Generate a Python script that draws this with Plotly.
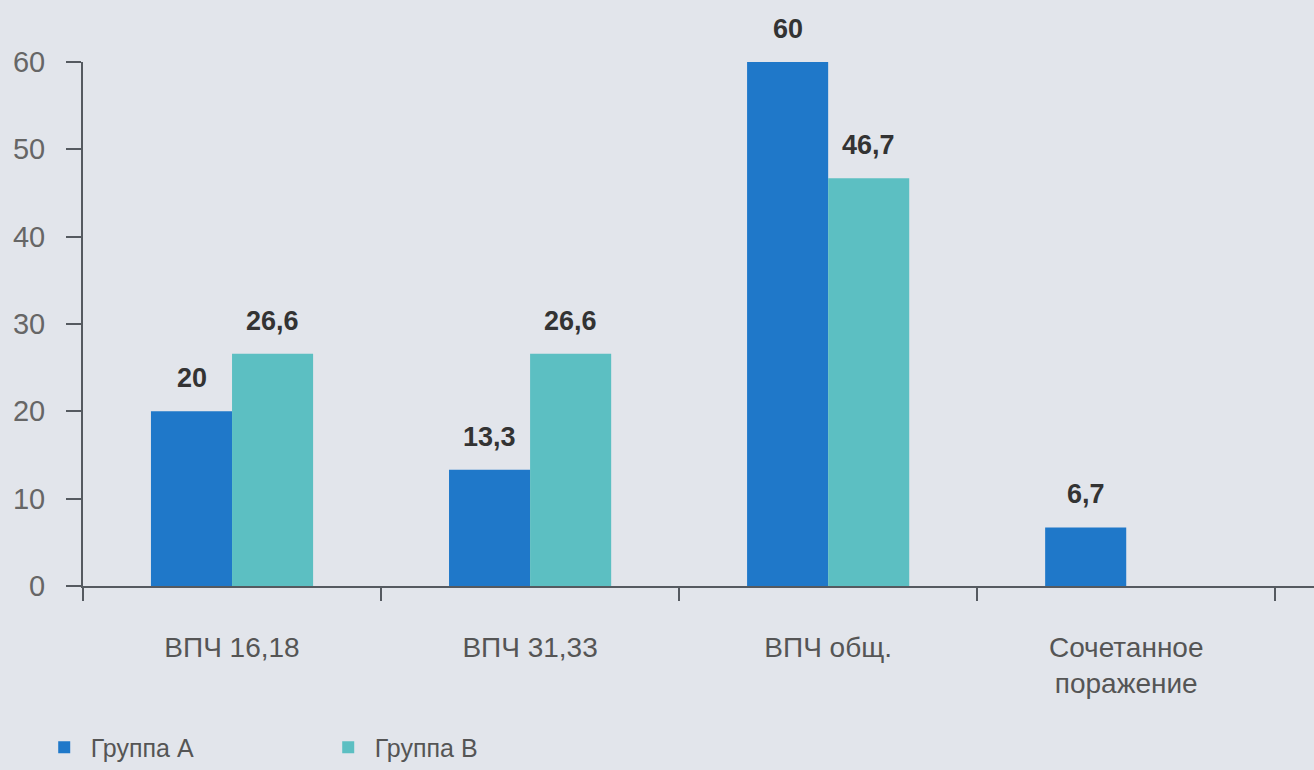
import plotly.graph_objects as go

categories = ["ВПЧ 16,18", "ВПЧ 31,33", "ВПЧ общ.", "Сочетанное<br>поражение"]
group_a = [20, 13.3, 60, 6.7]
group_b = [26.6, 26.6, 46.7, None]
series_names = ["Группа А", "Группа В"]
y_ticks = [0, 10, 20, 30, 40, 50, 60]

color_a = "#1f78c9"
color_b = "#5cbfc2"
bg = "#e2e5eb"
axis_col = "#555a60"
font = "Liberation Sans, Arial, sans-serif"


def fmt(v):
    return f"{v:g}".replace(".", ",")


fig = go.Figure()
fig.add_trace(go.Bar(x=categories, y=group_a, name=series_names[0],
                     marker=dict(color=color_a, line=dict(width=0))))
fig.add_trace(go.Bar(x=categories, y=group_b, name=series_names[1],
                     marker=dict(color=color_b, line=dict(width=0))))

annotations = []
for shift, vals in ((-40.5, group_a), (40.5, group_b)):
    for c, v in zip(categories, vals):
        if v is None:
            continue
        annotations.append(dict(x=c, y=v, xref="x", yref="y",
                                text="<b>" + fmt(v) + "</b>",
                                showarrow=False, xshift=shift, yshift=33,
                                font=dict(family=font, size=27, color="#333333"),
                                yanchor="middle"))

fig.update_layout(
    width=1314, height=770,
    margin=dict(l=83, r=0, t=62, b=184, autoexpand=False),
    paper_bgcolor=bg, plot_bgcolor=bg,
    barmode="group", bargap=0.456, bargroupgap=0,
    font=dict(family=font, color="#555555"),
    annotations=annotations,
    showlegend=True,
    legend=dict(orientation="h", xref="container", yref="paper",
                x=0.0287, y=-0.308, xanchor="left", yanchor="middle",
                entrywidth=226, entrywidthmode="pixels", itemwidth=43,
                font=dict(family=font, size=25, color="#555555"),
                bgcolor="rgba(0,0,0,0)"),
    xaxis=dict(range=[-0.5, 3.63], showline=True, linecolor=axis_col, linewidth=2,
               ticks="outside", tickson="boundaries", ticklen=13, tickwidth=2,
               tickcolor=axis_col, showgrid=False, zeroline=False,
               tickfont=dict(family=font, size=28, color="#555555"),
               ticklabelstandoff=35),
    yaxis=dict(range=[0, 60], tickvals=y_ticks, showline=True, linecolor=axis_col,
               linewidth=2, ticks="outside", ticklen=15, tickwidth=2,
               tickcolor=axis_col, showgrid=False, zeroline=False,
               tickfont=dict(family=font, size=29, color="#666666"),
               ticklabelstandoff=15),
)

fig.write_html("out.html", config={"displayModeBar": False},
               post_script="document.body.style.margin='0';")
